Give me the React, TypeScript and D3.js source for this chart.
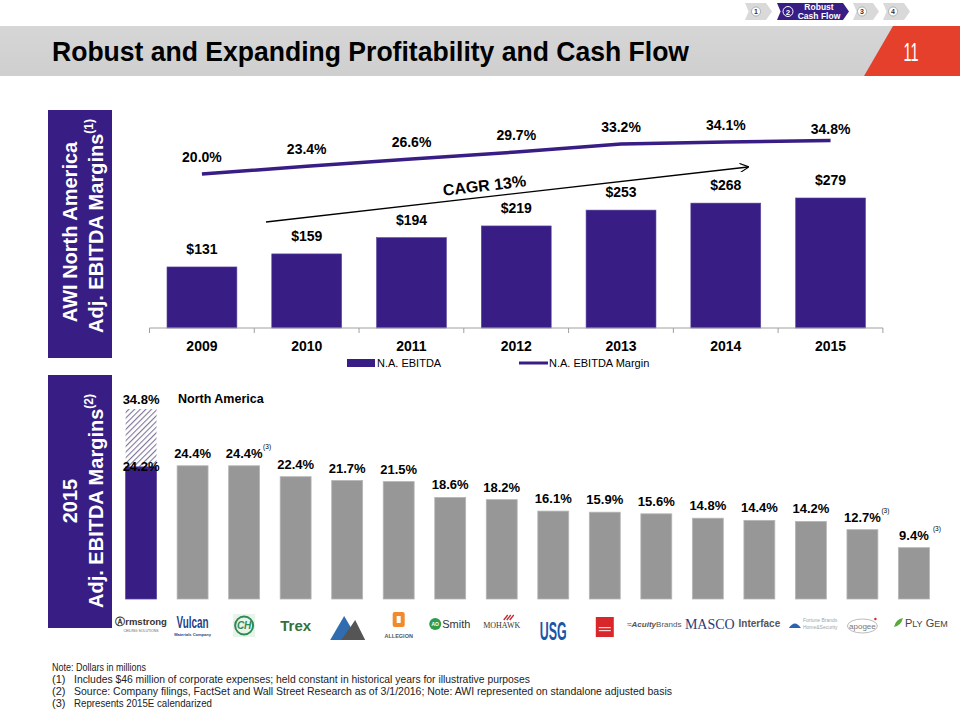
import React from "react";
import * as d3 from "d3";

const years = ["2009", "2010", "2011", "2012", "2013", "2014", "2015"];
const ebitda = [131, 159, 194, 219, 253, 268, 279];
const margins = [20.0, 23.4, 26.6, 29.7, 33.2, 34.1, 34.8];

const companies = [
  "Armstrong", "Vulcan", "CH", "Trex", "Martin Marietta", "Allegion", "A.O. Smith", "Mohawk",
  "USG", "Owens Corning", "Acuity Brands", "Masco", "Interface", "Fortune Brands", "Apogee", "Ply Gem",
];
const peerMargins = [24.2, 24.4, 24.4, 22.4, 21.7, 21.5, 18.6, 18.2, 16.1, 15.9, 15.6, 14.8, 14.4, 14.2, 12.7, 9.4];
const peerNote3 = [false, false, true, false, false, false, false, false, false, false, false, false, false, false, true, true];
const awiNAMargin = 34.8;

const noteLine = "Note:  Dollars in millions";
const footnoteMarks = ["(1)", "(2)", "(3)"];
const footnoteTexts = [
  "Includes $46 million of corporate expenses; held constant in historical years for illustrative purposes",
  "Source: Company filings, FactSet and Wall Street Research  as of 3/1/2016; Note: AWI represented on standalone adjusted basis",
  "Represents 2015E calendarized",
];
const footnoteWidths = [456, 598, 138];

const PURPLE = "#381d84";
const GRAY = "#979797";
const FONT = "'Liberation Sans', Arial, Helvetica, sans-serif";

function Logo({ name, cx }: { name: string; cx: number }) {
  const f = FONT;
  switch (name) {
    case "Armstrong":
      return (
        <g>
          <text x={cx} y={625} textAnchor="middle" fontSize={9.5} fontFamily={f} fontWeight="bold" fill="#333">Ⓐrmstrong</text>
          <text x={cx} y={632} textAnchor="middle" fontSize={3.5} fontFamily={f} fill="#666">CEILING SOLUTIONS</text>
        </g>
      );
    case "Vulcan":
      return (
        <g>
          <text x={cx} y={628} textAnchor="middle" fontSize={16} fontFamily={f} fontWeight="900" fill="#1d3f8a" textLength={32} lengthAdjust="spacingAndGlyphs">Vulcan</text>
          <text x={cx} y={636} textAnchor="middle" fontSize={4} fontFamily={f} fontWeight="bold" fill="#1d3f8a">Materials Company</text>
        </g>
      );
    case "CH":
      return (
        <g>
          <rect x={cx - 11} y={614} width={22} height={23} fill="#e8f3ea" />
          <circle cx={cx} cy={625.5} r={9} fill="none" stroke="#2e8b57" strokeWidth={2} />
          <text x={cx} y={629} textAnchor="middle" fontSize={10} fontFamily={f} fontStyle="italic" fontWeight="bold" fill="#2e8b57">CH</text>
        </g>
      );
    case "Trex":
      return <text x={cx} y={631} textAnchor="middle" fontSize={15} fontFamily={f} fontWeight="bold" fill="#35703c">Trex</text>;
    case "Martin Marietta":
      return (
        <g>
          <polygon points={`${cx - 17},640 ${cx - 3},616 ${cx + 4},628 ${cx - 5},640`} fill="#2f6db0" />
          <polygon points={`${cx - 6},640 ${cx + 4},626 ${cx + 8},620 ${cx + 18},640`} fill="#555" />
        </g>
      );
    case "Allegion":
      return (
        <g>
          <rect x={cx - 6} y={612} width={12} height={15} rx={2} fill="#f08a2c" />
          <rect x={cx - 2} y={616} width={4} height={7} fill="#fff" />
          <text x={cx} y={638} textAnchor="middle" fontSize={5.5} fontFamily={f} fontWeight="bold" fill="#555">ALLEGION</text>
        </g>
      );
    case "A.O. Smith":
      return (
        <g>
          <circle cx={cx - 15} cy={624} r={6} fill="#2e9b4d" />
          <text x={cx - 15} y={626} textAnchor="middle" fontSize={5} fontFamily={f} fontWeight="bold" fill="#fff">AO</text>
          <text x={cx - 8} y={628} fontSize={11} fontFamily={f} fill="#333">Smith</text>
        </g>
      );
    case "Mohawk":
      return (
        <g>
          <path d={`M${cx + 2},620 l4,-5 M${cx + 5},620 l4,-5 M${cx + 8},620 l4,-5`} stroke="#c0282d" strokeWidth={1.3} />
          <text x={cx} y={628} textAnchor="middle" fontSize={8} fontFamily="'Liberation Serif', serif" fill="#333">MOHAWK</text>
        </g>
      );
    case "USG":
      return (
        <text transform={`translate(${cx},640) scale(0.62,1.3)`} textAnchor="middle" fontSize={20} fontFamily={f} fontWeight="900" fill="#1b55a8">USG</text>
      );
    case "Owens Corning":
      return (
        <g>
          <rect x={cx - 9} y={617} width={18} height={20} fill="#d8262b" />
          <rect x={cx - 6} y={627} width={12} height={1.2} fill="#fff" opacity={0.8} />
          <rect x={cx - 6} y={630} width={12} height={1.2} fill="#fff" opacity={0.8} />
        </g>
      );
    case "Acuity Brands":
      return (
        <g>
          <text x={cx - 2} y={627} textAnchor="middle" fontSize={8} fontFamily={f} fill="#555">
            <tspan fill="#c0282d">≈</tspan>
            <tspan fontWeight="bold" fontStyle="italic" fill="#555">Acuity</tspan>
            <tspan fill="#555">Brands</tspan>
          </text>
        </g>
      );
    case "Masco":
      return <text x={cx + 2} y={629} textAnchor="middle" fontSize={14} fontFamily="'Liberation Serif', serif" fill="#2c3a78">MASCO</text>;
    case "Interface":
      return <text x={cx} y={627} textAnchor="middle" fontSize={10} fontFamily={f} fontWeight="bold" fill="#555">Interface</text>;
    case "Fortune Brands":
      return (
        <g>
          <path d={`M${cx - 22},628 q6,-9 12,0 z`} fill="#2b63b0" />
          <text x={cx - 8} y={622} fontSize={5} fontFamily={f} fill="#9aa">Fortune Brands</text>
          <text x={cx - 8} y={629} fontSize={5} fontFamily={f} fill="#9aa">Home&amp;Security</text>
        </g>
      );
    case "Apogee":
      return (
        <g>
          <ellipse cx={cx} cy={626} rx={15} ry={7} fill="none" stroke="#aaa" strokeWidth={0.8} />
          <circle cx={cx + 13} cy={619} r={1.2} fill="#d8262b" />
          <text x={cx} y={629} textAnchor="middle" fontSize={8} fontFamily={f} fill="#777">apogee</text>
        </g>
      );
    case "Ply Gem":
      return (
        <g>
          <path d={`M${cx - 20},627 q2,-8 9,-9 q-2,8 -9,9 z`} fill="#5aa83c" />
          <text x={cx - 9} y={627} fontSize={11} fontFamily={f} fill="#444">P<tspan fontSize={9}>LY</tspan> G<tspan fontSize={9}>EM</tspan></text>
        </g>
      );
    default:
      return null;
  }
}

function NavChevron({ x, w, fill, children }: { x: number; w: number; fill: string; children?: React.ReactNode }) {
  const y = 3, h = 17, tip = 6;
  return (
    <g>
      <polygon points={`${x},${y} ${x + w - tip},${y} ${x + w},${y + h / 2} ${x + w - tip},${y + h} ${x},${y + h} ${x + tip * 0.6},${y + h / 2}`} fill={fill} />
      {children}
    </g>
  );
}

export default function App() {
  const xTop = d3.scaleBand<string>().domain(years).range([149.5, 883]).paddingInner(0.333).paddingOuter(0.167);
  const yTop = d3.scaleLinear().domain([0, 300]).range([328, 328 - 300 * 0.466]);
  const yMargin = d3.scaleLinear().domain([20, 34.8]).range([174, 140.4]);
  const lineGen = d3
    .line<number>()
    .x((_, i) => (xTop(years[i]) as number) + xTop.bandwidth() / 2)
    .y((d) => yMargin(d));
  const step = xTop.step();
  const r0 = xTop.range()[0];

  const xBot = d3.scaleBand<string>().domain(companies).range([105, 950]).padding(0.4);
  const yBot = d3.scaleLinear().domain([0, 34.8]).range([599, 409]);
  const bw = xBot.bandwidth();

  const cagrStart: [number, number] = [266, 222];
  const cagrEnd: [number, number] = [748, 167];
  const ang = (Math.atan2(cagrEnd[1] - cagrStart[1], cagrEnd[0] - cagrStart[0]) * 180) / Math.PI;

  return (
    <svg width={960} height={720} style={{ position: "absolute", left: 0, top: 0, background: "#fff" }} fontFamily={FONT}>
      <defs>
        <pattern id="hatch" width={4} height={4} patternUnits="userSpaceOnUse" patternTransform="rotate(45)">
          <rect width={4} height={4} fill="#fff" />
          <line x1={0} y1={0} x2={0} y2={4} stroke="#7f7799" strokeWidth={2.2} />
        </pattern>
        <linearGradient id="hdr" x1="0" y1="0" x2="0" y2="1">
          <stop offset="0" stopColor="#d6d6d6" />
          <stop offset="1" stopColor="#cfcfcf" />
        </linearGradient>
        <marker id="arr" viewBox="0 0 10 10" refX={9} refY={5} markerWidth={9} markerHeight={9} orient="auto" markerUnits="userSpaceOnUse">
          <path d="M0,0 L10,5 L0,10" fill="none" stroke="#000" strokeWidth={1.3} />
        </marker>
      </defs>

      {/* Header */}
      <rect x={0} y={26} width={960} height={50} fill="url(#hdr)" />
      <polygon points="893,26 960,26 960,76 864,76" fill="#e5402b" />
      <text x={911} y={61} textAnchor="middle" fontSize={26} fill="#fff" textLength={15} lengthAdjust="spacingAndGlyphs">11</text>
      <text x={52} y={61} fontSize={28} fontWeight="bold" fill="#000" textLength={637} lengthAdjust="spacingAndGlyphs">Robust and Expanding Profitability and Cash Flow</text>

      {/* Nav */}
      <NavChevron x={745} w={27} fill="#d9d9d9">
        <circle cx={756} cy={11.5} r={4.5} fill="#fff" stroke="#888" strokeWidth={0.6} />
        <text x={756} y={14} textAnchor="middle" fontSize={7} fontWeight="bold" fill="#333">1</text>
      </NavChevron>
      <NavChevron x={777} w={72} fill={PURPLE}>
        <circle cx={788} cy={11.5} r={5} fill="none" stroke="#fff" strokeWidth={1} />
        <text x={788} y={14.5} textAnchor="middle" fontSize={8} fontWeight="bold" fill="#fff">2</text>
        <text x={819} y={10} textAnchor="middle" fontSize={8.5} fontWeight="bold" fill="#fff">Robust</text>
        <text x={819} y={19} textAnchor="middle" fontSize={8.5} fontWeight="bold" fill="#fff">Cash Flow</text>
      </NavChevron>
      <NavChevron x={853} w={26} fill="#d9d9d9">
        <circle cx={862} cy={11.5} r={4.5} fill="#fff" stroke="#888" strokeWidth={0.6} />
        <text x={862} y={14} textAnchor="middle" fontSize={7} fontWeight="bold" fill="#333">3</text>
      </NavChevron>
      <NavChevron x={883} w={27} fill="#d9d9d9">
        <circle cx={893} cy={11.5} r={4.5} fill="#fff" stroke="#888" strokeWidth={0.6} />
        <text x={893} y={14} textAnchor="middle" fontSize={7} fontWeight="bold" fill="#333">4</text>
      </NavChevron>

      {/* Left bands */}
      <rect x={48} y={110} width={64} height={248} fill={PURPLE} />
      <g transform="translate(70,232) rotate(-90)">
        <text textAnchor="middle" dominantBaseline="central" fontSize={20} fontWeight="bold" fill="#fff">AWI North America</text>
      </g>
      <g transform="translate(96,226) rotate(-90)">
        <text textAnchor="middle" dominantBaseline="central" fontSize={20} fontWeight="bold" fill="#fff">
          Adj. EBITDA Margins<tspan fontSize={12} dy={-7}>(1)</tspan>
        </text>
      </g>
      <rect x={48} y={375} width={64} height={253} fill={PURPLE} />
      <g transform="translate(70,501) rotate(-90)">
        <text textAnchor="middle" dominantBaseline="central" fontSize={20} fontWeight="bold" fill="#fff">2015</text>
      </g>
      <g transform="translate(96,501) rotate(-90)">
        <text textAnchor="middle" dominantBaseline="central" fontSize={20} fontWeight="bold" fill="#fff">
          Adj. EBITDA Margins<tspan fontSize={12} dy={-7}>(2)</tspan>
        </text>
      </g>

      {/* Top chart bars */}
      {years.map((yr, i) => {
        const x = xTop(yr) as number;
        return (
          <g key={yr}>
            <rect x={x} y={yTop(ebitda[i])} width={xTop.bandwidth()} height={yTop(0) - yTop(ebitda[i])} fill={PURPLE} stroke="#5a48a0" strokeWidth={0.6} />
            <text x={x + xTop.bandwidth() / 2} y={yTop(ebitda[i]) - 13} textAnchor="middle" fontSize={14} fontWeight="bold" fill="#000">${ebitda[i]}</text>
            <text x={x + xTop.bandwidth() / 2} y={351} textAnchor="middle" fontSize={14} fontWeight="bold" fill="#000">{yr}</text>
          </g>
        );
      })}
      <line x1={r0} x2={xTop.range()[1]} y1={yTop(0)} y2={yTop(0)} stroke="#a0a0a0" strokeWidth={1} />
      {d3.range(years.length + 1).map((i) => (
        <line key={i} x1={r0 + i * step} x2={r0 + i * step} y1={yTop(0)} y2={yTop(0) + 5} stroke="#a0a0a0" strokeWidth={1} />
      ))}

      {/* Margin line */}
      <path d={lineGen(margins) as string} fill="none" stroke={PURPLE} strokeWidth={3.5} />
      {margins.map((m, i) => (
        <text key={i} x={(xTop(years[i]) as number) + xTop.bandwidth() / 2} y={yMargin(m) - (i === margins.length - 1 ? 6 : 12)} textAnchor="middle" fontSize={14} fontWeight="bold" fill="#000">
          {m.toFixed(1)}%
        </text>
      ))}

      {/* CAGR arrow */}
      <line x1={cagrStart[0]} y1={cagrStart[1]} x2={cagrEnd[0]} y2={cagrEnd[1]} stroke="#000" strokeWidth={1.3} markerEnd="url(#arr)" />
      <text transform={`translate(485,191) rotate(${ang})`} textAnchor="middle" fontSize={16} fontWeight="bold" fill="#000">CAGR 13%</text>

      {/* Top legend */}
      <rect x={347} y={359} width={28} height={8} fill={PURPLE} />
      <text x={377} y={367} fontSize={11} fill="#000">N.A. EBITDA</text>
      <line x1={519} x2={548} y1={363} y2={363} stroke={PURPLE} strokeWidth={3} />
      <text x={549} y={367} fontSize={11} fill="#000">N.A. EBITDA Margin</text>

      {/* Bottom chart */}
      {companies.map((c, i) => {
        const x = xBot(c) as number;
        const cx = x + bw / 2;
        const v = peerMargins[i];
        const isAWI = i === 0;
        return (
          <g key={c}>
            {isAWI && (
              <>
                <rect x={x} y={yBot(awiNAMargin)} width={bw} height={yBot(v) - yBot(awiNAMargin)} fill="url(#hatch)" />
                <text x={cx} y={yBot(awiNAMargin) - 5} textAnchor="middle" fontSize={13} fontWeight="bold" fill="#000">{awiNAMargin.toFixed(1)}%</text>
              </>
            )}
            <rect x={x} y={yBot(v)} width={bw} height={yBot(0) - yBot(v)} fill={isAWI ? PURPLE : GRAY} stroke={isAWI ? "#5a48a0" : "#b5b5b5"} strokeWidth={0.8} />
            <text x={cx} y={isAWI ? yBot(v) + 4 : yBot(v) - 8} textAnchor="middle" fontSize={13} fontWeight="bold" fill="#000">
              {v.toFixed(1)}%
            </text>
            {peerNote3[i] && (
              <text x={cx + 19} y={yBot(v) - 17} fontSize={6.5} fill="#000">(3)</text>
            )}
            <Logo name={c} cx={cx} />
          </g>
        );
      })}
      <text x={178} y={403} fontSize={12.5} fontWeight="bold" fill="#000">North America</text>

      {/* Footnotes */}
      <g fontSize={11} fill="#222">
        <text x={52} y={671} textLength={94} lengthAdjust="spacingAndGlyphs">{noteLine}</text>
        {footnoteMarks.map((mk, i) => (
          <g key={mk}>
            <text x={52} y={683 + i * 12}>{mk}</text>
            <text x={74} y={683 + i * 12} textLength={footnoteWidths[i]} lengthAdjust="spacingAndGlyphs">{footnoteTexts[i]}</text>
          </g>
        ))}
      </g>
    </svg>
  );
}
